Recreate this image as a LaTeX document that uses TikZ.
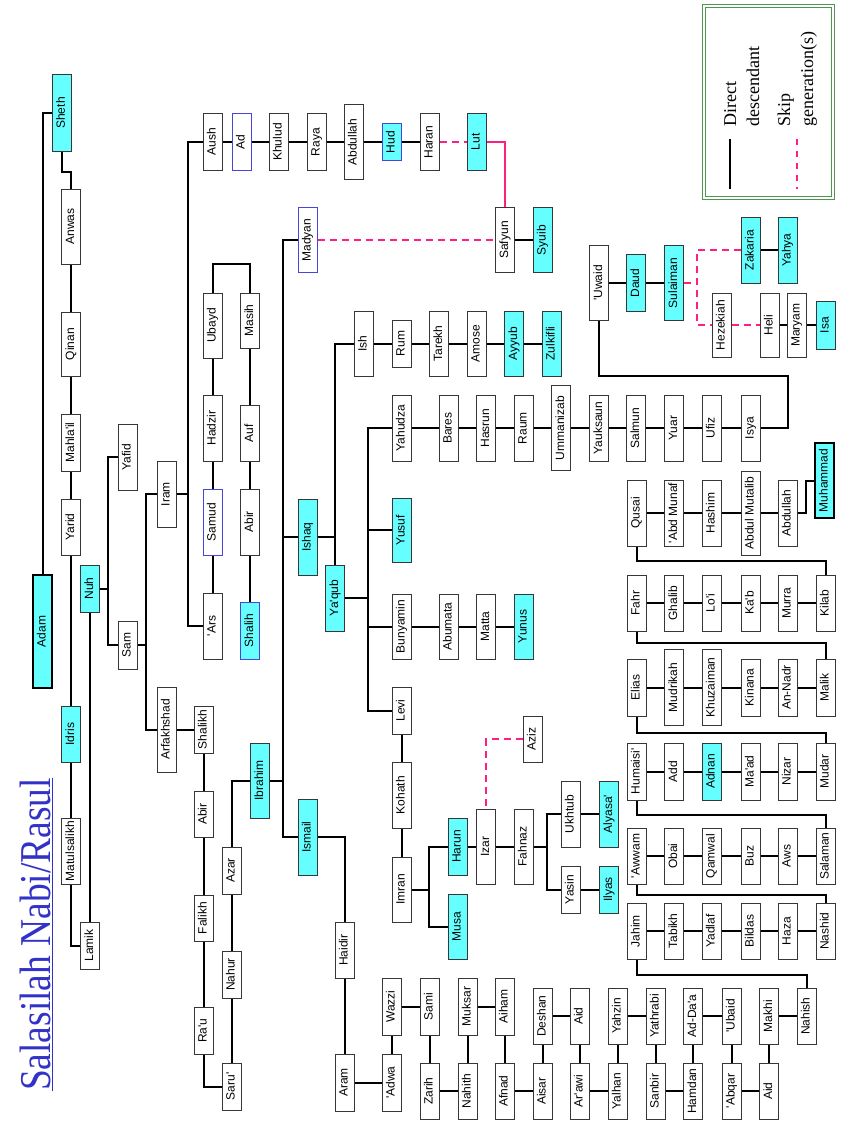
\documentclass[tikz,border=0pt]{standalone}
\usepackage{fontspec}
\usepackage{graphicx}
\setmainfont{Liberation Sans}[Ligatures=TeXOff]
\newfontfamily\serifx{Liberation Serif}
\definecolor{cyanf}{RGB}{102,255,255}
\definecolor{boxgray}{RGB}{55,55,55}
\definecolor{blueb}{RGB}{70,70,220}
\definecolor{pinkl}{RGB}{255,30,130}
\definecolor{lgreen}{RGB}{80,150,80}
\definecolor{titleblue}{RGB}{50,50,200}
\tikzset{
  box/.style={draw=boxgray, line width=1pt, fill=white, minimum width=19pt, inner sep=0pt, font=\fontsize{12}{14}\selectfont},
  prophet/.style={fill=cyanf},
  bluebord/.style={draw=blueb},
  major/.style={draw=black, line width=2.2pt},
  ln/.style={line width=2pt, black},
  skipl/.style={line width=2pt, pinkl, dash pattern=on 7pt off 5pt},
  skipsolid/.style={line width=2pt, pinkl},
  legtext/.style={rotate=90, anchor=base west, inner sep=0pt, font=\serifx\fontsize{18}{20}\selectfont}
}
\newcommand\nbx[5][]{\node[box,minimum height=#4pt,#1] (#2) at (#3) {\rotatebox{90}{\rule[-3pt]{0pt}{12pt}#5}};}
\begin{document}
\begin{tikzpicture}[x=1pt,y=1pt]
\useasboundingbox (0,0) rectangle (842,-1121);
\fill[white] (0,0) rectangle (842,-1121);

% title
\node[rotate=90, anchor=base west, inner sep=0pt, text=titleblue, font=\serifx\fontsize{44}{46}\selectfont] (title) at (50,-1091) {\scalebox{0.85}[1]{Salasilah Nabi/Rasul}};
\draw[titleblue, line width=1pt] ([xshift=2.5pt]title.base west) -- ([xshift=2.5pt]title.base east);

% legend
\node[draw=lgreen, double=white, double distance=1.4pt, line width=1.1pt, minimum width=129pt, minimum height=192pt, inner sep=0pt] (legend) at (768.5,-102) {};
\node[legtext] (lg1) at (736,-127) {Direct};
\node[legtext] (lg2) at (759,-127) {descendant};
\node[legtext] (lg3) at (790,-127) {Skip};
\node[legtext] (lg4) at (813,-127) {generation(s)};
\coordinate (ls1) at (730,-139); \coordinate (le1) at (730,-189);
\coordinate (ls2) at (797,-139); \coordinate (le2) at (797,-189);
\draw[line width=2pt] (ls1) -- (le1);
\draw[skipl, dash pattern=on 6pt off 6pt] (ls2) -- (le2);

% nodes
\nbx[prophet]{Sheth}{62,-113}{76}{Sheth}
\nbx{Anwas}{71,-226.5}{75}{Anwas}
\nbx{Qinan}{71,-344}{64}{Qinan}
\nbx{Mahlail}{71,-442.5}{57}{Mahla'il}
\nbx{Yarid}{71,-527}{56}{Yarid}
\nbx[prophet]{Idris}{71,-734}{56}{Idris}
\nbx{Matulsalikh}{71,-851}{66}{Matulsalikh}
\nbx[prophet,major]{Adam}{42.5,-631.5}{113}{Adam}
\nbx{Lamik}{90,-945.5}{47}{Lamik}
\nbx[prophet]{Nuh}{90,-588.5}{47}{Nuh}
\nbx{Yafid}{127.5,-457}{66}{Yafid}
\nbx{Sam}{127.5,-645}{48}{Sam}
\nbx{Iram}{166.5,-494}{66}{Iram}
\nbx{Arfakhshad}{166.5,-729.5}{85}{Arfakhshad}
\nbx{Shalikh}{203.5,-729.5}{47}{Shalikh}
\nbx{AbirA}{203.5,-814}{46}{Abir}
\nbx{Falikh}{203.5,-918}{46}{Falikh}
\nbx{Rau}{203.5,-1030.5}{47}{Ra'u}
\nbx{Saru}{231.5,-1086.5}{47}{Saru'}
\nbx{Nahur}{231.5,-974.5}{47}{Nahur}
\nbx{Azar}{231.5,-870.5}{47}{Azar}
\nbx[prophet]{Ibrahim}{260,-780.5}{75}{Ibrahim}
\nbx{Aush}{212.5,-142}{57}{Aush}
\nbx[bluebord]{Ad}{241.5,-142}{57}{Ad}
\nbx{Khulud}{278.5,-142}{57}{Khulud}
\nbx{Raya}{316.5,-142}{57}{Raya}
\nbx{AbdullahA}{353.5,-142}{75}{Abdullah}
\nbx[prophet,bluebord]{Hud}{391.5,-142}{37}{Hud}
\nbx{Haran}{429.5,-142}{57}{Haran}
\nbx[prophet]{Lut}{476.5,-142}{57}{Lut}
\nbx{Ubayd}{212.5,-325.5}{65}{Ubayd}
\nbx{Hadzir}{212.5,-428}{66}{Hadzir}
\nbx[bluebord]{Samud}{212.5,-522}{66}{Samud}
\nbx{Ars}{212.5,-626}{66}{'Ars}
\nbx{Masih}{250,-320.5}{55}{Masih}
\nbx{Auf}{250,-433}{56}{Auf}
\nbx{AbirB}{250,-522}{66}{Abir}
\nbx[prophet,bluebord]{Shalih}{250,-630.5}{57}{Shalih}
\nbx[bluebord]{Madyan}{307.5,-240}{65}{Madyan}
\nbx{Safyun}{505,-240}{65}{Safyun}
\nbx[prophet]{Syuib}{542.5,-240}{65}{Syuib}
\nbx[prophet]{Ishaq}{307.5,-537}{76}{Ishaq}
\nbx[prophet]{Ismail}{307.5,-837}{76}{Ismail}
\nbx{Ish}{363.5,-343.5}{65}{Ish}
\nbx{Rum}{401.5,-343.5}{47}{Rum}
\nbx{Tarekh}{439,-343.5}{65}{Tarekh}
\nbx{Amose}{476.5,-343.5}{65}{Amose}
\nbx[prophet]{Ayyub}{514,-343.5}{65}{Ayyub}
\nbx[prophet]{Zulkifli}{551.5,-343.5}{65}{Zulkifli}
\nbx{Yahudza}{401.5,-428}{66}{Yahudza}
\nbx{Bares}{448.5,-428}{66}{Bares}
\nbx{Hasrun}{486,-428}{66}{Hasrun}
\nbx{Raum}{523.5,-428}{66}{Raum}
\nbx{Ummanizab}{561,-428}{85}{Ummanizab}
\nbx{Yauksaun}{599,-428}{66}{Yauksaun}
\nbx{Salmun}{636,-428}{66}{Salmun}
\nbx{Yuar}{674,-428}{66}{Yuar}
\nbx{Ufiz}{711.5,-428}{66}{Ufiz}
\nbx{Isya}{750.5,-428}{66}{Isya}
\nbx{Uwaid}{599,-283}{75}{'Uwaid}
\nbx[prophet]{Daud}{636,-283}{57}{Daud}
\nbx[prophet]{Sulaiman}{674,-283}{75}{Sulaiman}
\nbx[prophet]{Zakaria}{750.5,-250}{66}{Zakaria}
\nbx[prophet]{Yahya}{787.5,-250}{66}{Yahya}
\nbx{Hezekiah}{721.5,-325}{64}{Hezekiah}
\nbx{Heli}{769.5,-325}{64}{Heli}
\nbx{Maryam}{796.5,-325}{64}{Maryam}
\nbx[prophet]{Isa}{825.5,-325}{48}{Isa}
\nbx[prophet]{Yusuf}{401.5,-530}{64}{Yusuf}
\nbx[prophet]{Yaqub}{335,-598}{66}{Ya'qub}
\nbx{Bunyamin}{401.5,-626.5}{65}{Bunyamin}
\nbx{Abumata}{448.5,-626.5}{65}{Abumata}
\nbx{Matta}{486,-626.5}{65}{Matta}
\nbx[prophet]{Yunus}{523.5,-626.5}{65}{Yunus}
\nbx{Levi}{401.5,-710.5}{47}{Levi}
\nbx{Kohath}{401.5,-795}{66}{Kohath}
\nbx{Aziz}{532.5,-739}{46}{Aziz}
\nbx{Imran}{401.5,-889.5}{65}{Imran}
\nbx[prophet]{Harun}{457.5,-846.5}{57}{Harun}
\nbx[prophet]{Musa}{457.5,-926.5}{65}{Musa}
\nbx{Izar}{486,-846.5}{75}{Izar}
\nbx{Fahnaz}{523.5,-846.5}{75}{Fahnaz}
\nbx{Ukhtub}{570.5,-814}{66}{Ukhtub}
\nbx[prophet]{Alyasa}{609,-814}{66}{Alyasa'}
\nbx{Yasin}{570.5,-889.5}{47}{Yasin}
\nbx[prophet]{Ilyas}{609,-889.5}{47}{Ilyas}
\nbx{Qusai}{636.5,-513}{66}{Qusai}
\nbx{AbdMunaf}{674,-513}{66}{'Abd Munaf}
\nbx{Hashim}{711.5,-513}{66}{Hashim}
\nbx{AbdulMutalib}{750.5,-513}{84}{Abdul Mutalib}
\nbx{AbdullahB}{787.5,-513}{66}{Abdullah}
\nbx[prophet,major]{Muhammad}{824.5,-480.5}{75}{Muhammad}
\nbx{Fahr}{636.5,-603}{56}{Fahr}
\nbx{Ghalib}{674,-603}{56}{Ghalib}
\nbx{Loi}{711.5,-603}{56}{Lo'i}
\nbx{Kab}{750.5,-603}{56}{Ka'b}
\nbx{Murra}{787.5,-603}{56}{Murra}
\nbx{Kilab}{825.5,-603}{56}{Kilab}
\nbx{Elias}{636.5,-687.5}{57}{Elias}
\nbx{Mudrikah}{674,-687.5}{76}{Mudrikah}
\nbx{Khuzaiman}{711.5,-687.5}{76}{Khuzaiman}
\nbx{Kinana}{750.5,-687.5}{57}{Kinana}
\nbx{AnNadr}{787.5,-687.5}{57}{An-Nadr}
\nbx{Malik}{825.5,-687.5}{57}{Malik}
\nbx{Humaisi}{636.5,-771.5}{57}{Humaisi'}
\nbx{Add}{674,-771.5}{57}{Add}
\nbx[prophet]{Adnan}{711.5,-771.5}{57}{Adnan}
\nbx{Maad}{750.5,-771.5}{57}{Ma'ad}
\nbx{Nizar}{787.5,-771.5}{57}{Nizar}
\nbx{Mudar}{825.5,-771.5}{57}{Mudar}
\nbx{Awwam}{636.5,-856}{56}{'Awwam}
\nbx{Obai}{674,-856}{56}{Obai}
\nbx{Qamwal}{711.5,-856}{56}{Qamwal}
\nbx{Buz}{750.5,-856}{56}{Buz}
\nbx{Aws}{787.5,-856}{56}{Aws}
\nbx{Salaman}{825.5,-856}{56}{Salaman}
\nbx{Jahim}{636.5,-931}{56}{Jahim}
\nbx{Tabikh}{674,-931}{56}{Tabikh}
\nbx{Yadlaf}{711.5,-931}{56}{Yadlaf}
\nbx{Bildas}{750.5,-931}{56}{Bildas}
\nbx{Haza}{787.5,-931}{56}{Haza}
\nbx{Nashid}{825.5,-931}{56}{Nashid}
\nbx{Haidir}{344.5,-950}{56}{Haidir}
\nbx{Aram}{344.5,-1082.5}{57}{Aram}
\nbx{Adwa}{391.5,-1082.5}{57}{'Adwa}
\nbx{Wazzi}{391.5,-1006.5}{57}{Wazzi}
\nbx{Sami}{429.5,-1006.5}{57}{Sami}
\nbx{Zarih}{429.5,-1091}{56}{Zarih}
\nbx{Nahith}{467.5,-1091}{56}{Nahith}
\nbx{Muksar}{467.5,-1006.5}{57}{Muksar}
\nbx{Aiham}{504.5,-1006.5}{57}{Aiham}
\nbx{Afnad}{504.5,-1091}{56}{Afnad}
\nbx{Aisar}{542.5,-1091}{56}{Aisar}
\nbx{Deshan}{542.5,-1016}{56}{Deshan}
\nbx{AidA}{579.5,-1016}{56}{Aid}
\nbx{Arawi}{579.5,-1091}{56}{Ar'awi}
\nbx{Yalhan}{617.5,-1091}{56}{Yalhan}
\nbx{Yahzin}{617.5,-1016}{56}{Yahzin}
\nbx{Yathrabi}{655.5,-1016}{56}{Yathrabi}
\nbx{Sanbir}{655.5,-1091}{56}{Sanbir}
\nbx{Hamdan}{693,-1091}{56}{Hamdan}
\nbx{AdDaa}{693,-1016}{56}{Ad-Da'a}
\nbx{Ubaid}{731.5,-1016}{56}{'Ubaid}
\nbx{Abqar}{731.5,-1091}{56}{'Abqar}
\nbx{AidB}{769,-1091}{56}{Aid}
\nbx{Makhi}{769,-1016}{56}{Makhi}
\nbx{Nahish}{806.5,-1016}{56}{Nahish}

% trunk coordinates
\coordinate (tNuh) at (108,0);
\coordinate (tSam) at (146,0);
\coordinate (tIram) at (188,0);
\coordinate (tIbr) at (283,0);
\coordinate (tYaq) at (368,0);
\coordinate (tImr) at (429,0);
\coordinate (tFah) at (547,0);

% straight connectors
\foreach \a/\b in {Anwas/Qinan, Qinan/Mahlail, Mahlail/Yarid, Yarid/Idris, Idris/Matulsalikh, Nuh/Lamik,
  Aush/Ad, Ad/Khulud, Khulud/Raya, Raya/AbdullahA, AbdullahA/Hud, Hud/Haran, Safyun/Syuib,
  Ubayd/Hadzir, Hadzir/Samud, Samud/Ars, Masih/Auf, Auf/AbirB, AbirB/Shalih,
  Arfakhshad/Shalikh, Shalikh/AbirA, AbirA/Falikh, Falikh/Rau, Saru/Nahur, Nahur/Azar,
  Ish/Rum, Rum/Tarekh, Tarekh/Amose, Amose/Ayyub, Ayyub/Zulkifli,
  Yahudza/Bares, Bares/Hasrun, Hasrun/Raum, Raum/Ummanizab, Ummanizab/Yauksaun, Yauksaun/Salmun,
  Salmun/Yuar, Yuar/Ufiz, Ufiz/Isya, Uwaid/Daud, Daud/Sulaiman, Zakaria/Yahya, Heli/Maryam, Maryam/Isa,
  Bunyamin/Abumata, Abumata/Matta, Matta/Yunus, Levi/Kohath, Kohath/Imran, Harun/Izar, Izar/Fahnaz,
  Ukhtub/Alyasa, Yasin/Ilyas, Qusai/AbdMunaf, AbdMunaf/Hashim, Hashim/AbdulMutalib, AbdulMutalib/AbdullahB,
  Fahr/Ghalib, Ghalib/Loi, Loi/Kab, Kab/Murra, Murra/Kilab,
  Elias/Mudrikah, Mudrikah/Khuzaiman, Khuzaiman/Kinana, Kinana/AnNadr, AnNadr/Malik,
  Humaisi/Add, Add/Adnan, Adnan/Maad, Maad/Nizar, Nizar/Mudar,
  Awwam/Obai, Obai/Qamwal, Qamwal/Buz, Buz/Aws, Aws/Salaman,
  Jahim/Tabikh, Tabikh/Yadlaf, Yadlaf/Bildas, Bildas/Haza, Haza/Nashid,
  Haidir/Aram, Aram/Adwa, Adwa/Wazzi, Wazzi/Sami, Sami/Zarih, Zarih/Nahith, Nahith/Muksar, Muksar/Aiham,
  Aiham/Afnad, Afnad/Aisar, Aisar/Deshan, Deshan/AidA, AidA/Arawi, Arawi/Yalhan, Yalhan/Yahzin,
  Yahzin/Yathrabi, Yathrabi/Sanbir, Sanbir/Hamdan, Hamdan/AdDaa, AdDaa/Ubaid, Ubaid/Abqar, Abqar/AidB,
  AidB/Makhi, Makhi/Nahish}
  \draw[ln] (\a) -- (\b);

% elbow connectors
\draw[ln] (Adam.north) |- (Sheth.west);
\draw[ln] (Sheth.south) -- ++(0,-20) -| (Anwas.north);
\draw[ln] (Matulsalikh.south) |- (Lamik.west);
\draw[ln] (Yafid.west) -- (Yafid.west -| tNuh) -- (Sam.west -| tNuh) -- (Sam.west);
\draw[ln] (Nuh.east) -- (Nuh.east -| tNuh);
\draw[ln] (Iram.west) -- (Iram.west -| tSam) -- (Arfakhshad.west -| tSam) -- (Arfakhshad.west);
\draw[ln] (Sam.east) -- (Sam.east -| tSam);
\draw[ln] (Aush.west) -- (Aush.west -| tIram) -- (Ars.west -| tIram) -- (Ars.west);
\draw[ln] (Iram.east) -- (Iram.east -| tIram);
\draw[ln] (Ubayd.north) -- ++(0,29) -| (Masih.north);
\draw[skipl] (Haran.east) -- (Lut.west);
\draw[skipsolid] (Lut.east) -| (Safyun.north);
\draw[skipl] (Madyan.east) -- (Safyun.west);
\draw[ln] (Madyan.west) -- (Madyan.west -| tIbr) -- (Ismail.west -| tIbr) -- (Ismail.west);
\draw[ln] (Ishaq.west) -- (Ishaq.west -| tIbr);
\draw[ln] (Ibrahim.east) -- (Ibrahim.east -| tIbr);
\draw[ln] (Ishaq.east) -- (Ishaq.east -| Yaqub.north);
\draw[ln] (Yaqub.north) |- (Ish.west);
\draw[ln] (Yahudza.west) -- (Yahudza.west -| tYaq) -- (Levi.west -| tYaq) -- (Levi.west);
\draw[ln] (Yusuf.west) -- (Yusuf.west -| tYaq);
\draw[ln] (Bunyamin.west) -- (Bunyamin.west -| tYaq);
\draw[ln] (Yaqub.east) -- (Yaqub.east -| tYaq);
\draw[ln] (Isya.east) -- ++(27,0) -- ++(0,52) -| (Uwaid.south);
\draw[skipl] (Sulaiman.east) -- ++(13.5,0);
\draw[skipl] (Zakaria.west) -- ++(-44,0) |- (Hezekiah.west);
\draw[skipl] (Hezekiah) -- (Heli);
\draw[ln] (Harun.west) -- (Harun.west -| tImr) -- (Musa.west -| tImr) -- (Musa.west);
\draw[ln] (Imran.east) -- (Imran.east -| tImr);
\draw[ln] (Ukhtub.west) -- (Ukhtub.west -| tFah) -- (Yasin.west -| tFah) -- (Yasin.west);
\draw[ln] (Fahnaz.east) -- (Fahnaz.east -| tFah);
\draw[skipl] (Aziz.west) -| (Izar.north);
\draw[ln] (Ismail.east) -| (Haidir.north);
\draw[ln] (Rau.south) |- (Saru.west);
\draw[ln] (Azar.north) |- (Ibrahim.west);
\draw[ln] (Nahish.north) -- ++(0,13) -| (Jahim.south);
\draw[ln] (Nashid.north) -- ++(0,8) -| (Awwam.south);
\draw[ln] (Salaman.north) -- ++(0,13) -| (Humaisi.south);
\draw[ln] (Mudar.north) -- ++(0,10) -| (Elias.south);
\draw[ln] (Malik.north) -- ++(0,16) -| (Fahr.south);
\draw[ln] (Kilab.north) -- ++(0,14) -| (Qusai.south);
\draw[ln] (AbdullahB.east) -- ++(8,0) |- (Muhammad.west);
\end{tikzpicture}
\end{document}
